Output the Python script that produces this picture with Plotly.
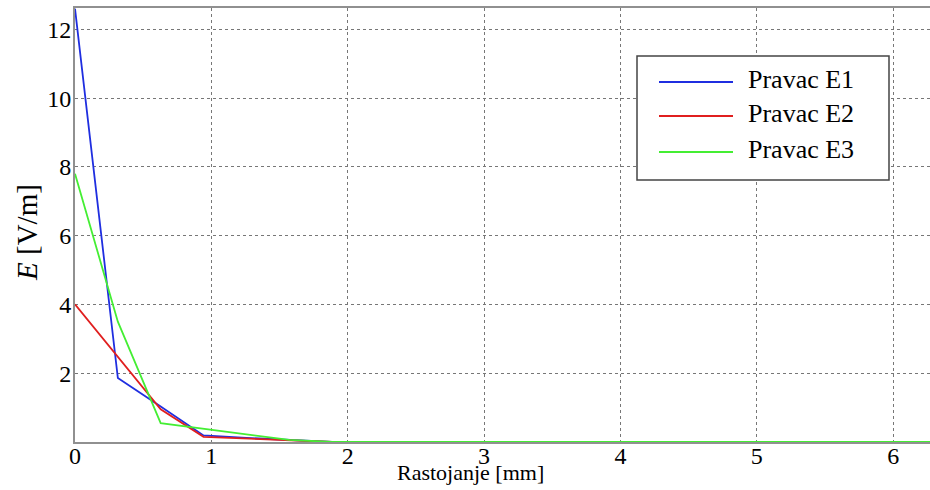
import math
import plotly.graph_objects as go

# distance [mm], sampled at k*pi/10
rastojanje = [round(k * math.pi / 10, 4) for k in range(21)]

e1 = [12.6, 1.86, 1.03, 0.19, 0.12, 0.05, 0, 0, 0, 0, 0, 0, 0, 0, 0, 0, 0, 0, 0, 0, 0]
e2 = [4.0, 2.47, 0.95, 0.15, 0.10, 0.04, 0, 0, 0, 0, 0, 0, 0, 0, 0, 0, 0, 0, 0, 0, 0]
e3 = [7.8, 3.5, 0.55, 0.38, 0.22, 0.06, 0, 0, 0, 0, 0, 0, 0, 0, 0, 0, 0, 0, 0, 0, 0]

names = ["Pravac E1", "Pravac E2", "Pravac E3"]
colors = ["#1f2ee0", "#e01f1f", "#44ee33"]

x_ticks = [0, 1, 2, 3, 4, 5, 6]
y_ticks = [2, 4, 6, 8, 10, 12]

FONT = "Liberation Serif"

fig = go.Figure()
for name, vals, col in zip(names, [e1, e2, e3], colors):
    fig.add_trace(go.Scatter(x=rastojanje, y=vals, mode="lines", name=name,
                             line=dict(color=col, width=1.8), showlegend=False))

fig.update_layout(
    width=930, height=490,
    margin=dict(l=75, r=0, t=8, b=48),
    paper_bgcolor="white", plot_bgcolor="white",
    font=dict(family=FONT, size=22, color="black"),
    showlegend=False,
    xaxis=dict(range=[0, 6.27], tickvals=x_ticks, showgrid=True,
               gridcolor="#777777", griddash="dot", gridwidth=1,
               showline=True, linecolor="#909090", linewidth=2, mirror=True,
               zeroline=False, ticks="", ticklabelstandoff=-9,
               tickfont=dict(family=FONT, size=24, color="black")),
    yaxis=dict(range=[0, 12.62], tickvals=y_ticks, showgrid=True,
               gridcolor="#777777", griddash="dot", gridwidth=1,
               showline=True, linecolor="#909090", linewidth=2,
               zeroline=False, ticks="", ticklabelstandoff=-3,
               tickfont=dict(family=FONT, size=24, color="black")),
)

# legend box (drawn by hand to match the long line samples)
PX0, PX1, PY0, PY1 = 75, 930, 8, 442
def px(x):
    return (x - PX0) / (PX1 - PX0)
def py(y):
    return (PY1 - y) / (PY1 - PY0)

fig.add_shape(type="rect", xref="paper", yref="paper",
              x0=px(637), x1=px(889), y0=py(180), y1=py(56),
              line=dict(color="#444444", width=1.5), fillcolor="white", layer="above")
row_y = [82, 116, 152]
for name, col, ry in zip(names, colors, row_y):
    fig.add_shape(type="line", xref="paper", yref="paper",
                  x0=px(659), x1=px(733), y0=py(ry), y1=py(ry),
                  line=dict(color=col, width=2), layer="above")
    fig.add_annotation(text=name, xref="paper", yref="paper",
                       x=px(746), y=py(ry - 3), xanchor="left", yanchor="middle",
                       showarrow=False, font=dict(family=FONT, size=26))

fig.add_annotation(text="Rastojanje [mm]", xref="paper", yref="paper",
                   x=px(470), y=py(458), xanchor="center", yanchor="top",
                   showarrow=False, font=dict(family=FONT, size=22))
fig.add_annotation(text="<i>E</i> [V/m]", xref="paper", yref="paper",
                   x=px(27), y=py(233), xanchor="center", yanchor="middle",
                   textangle=-90, showarrow=False, font=dict(family=FONT, size=29))

fig.write_html("out.html", config={"displayModeBar": False},
               post_script="document.body.style.margin='0';")
